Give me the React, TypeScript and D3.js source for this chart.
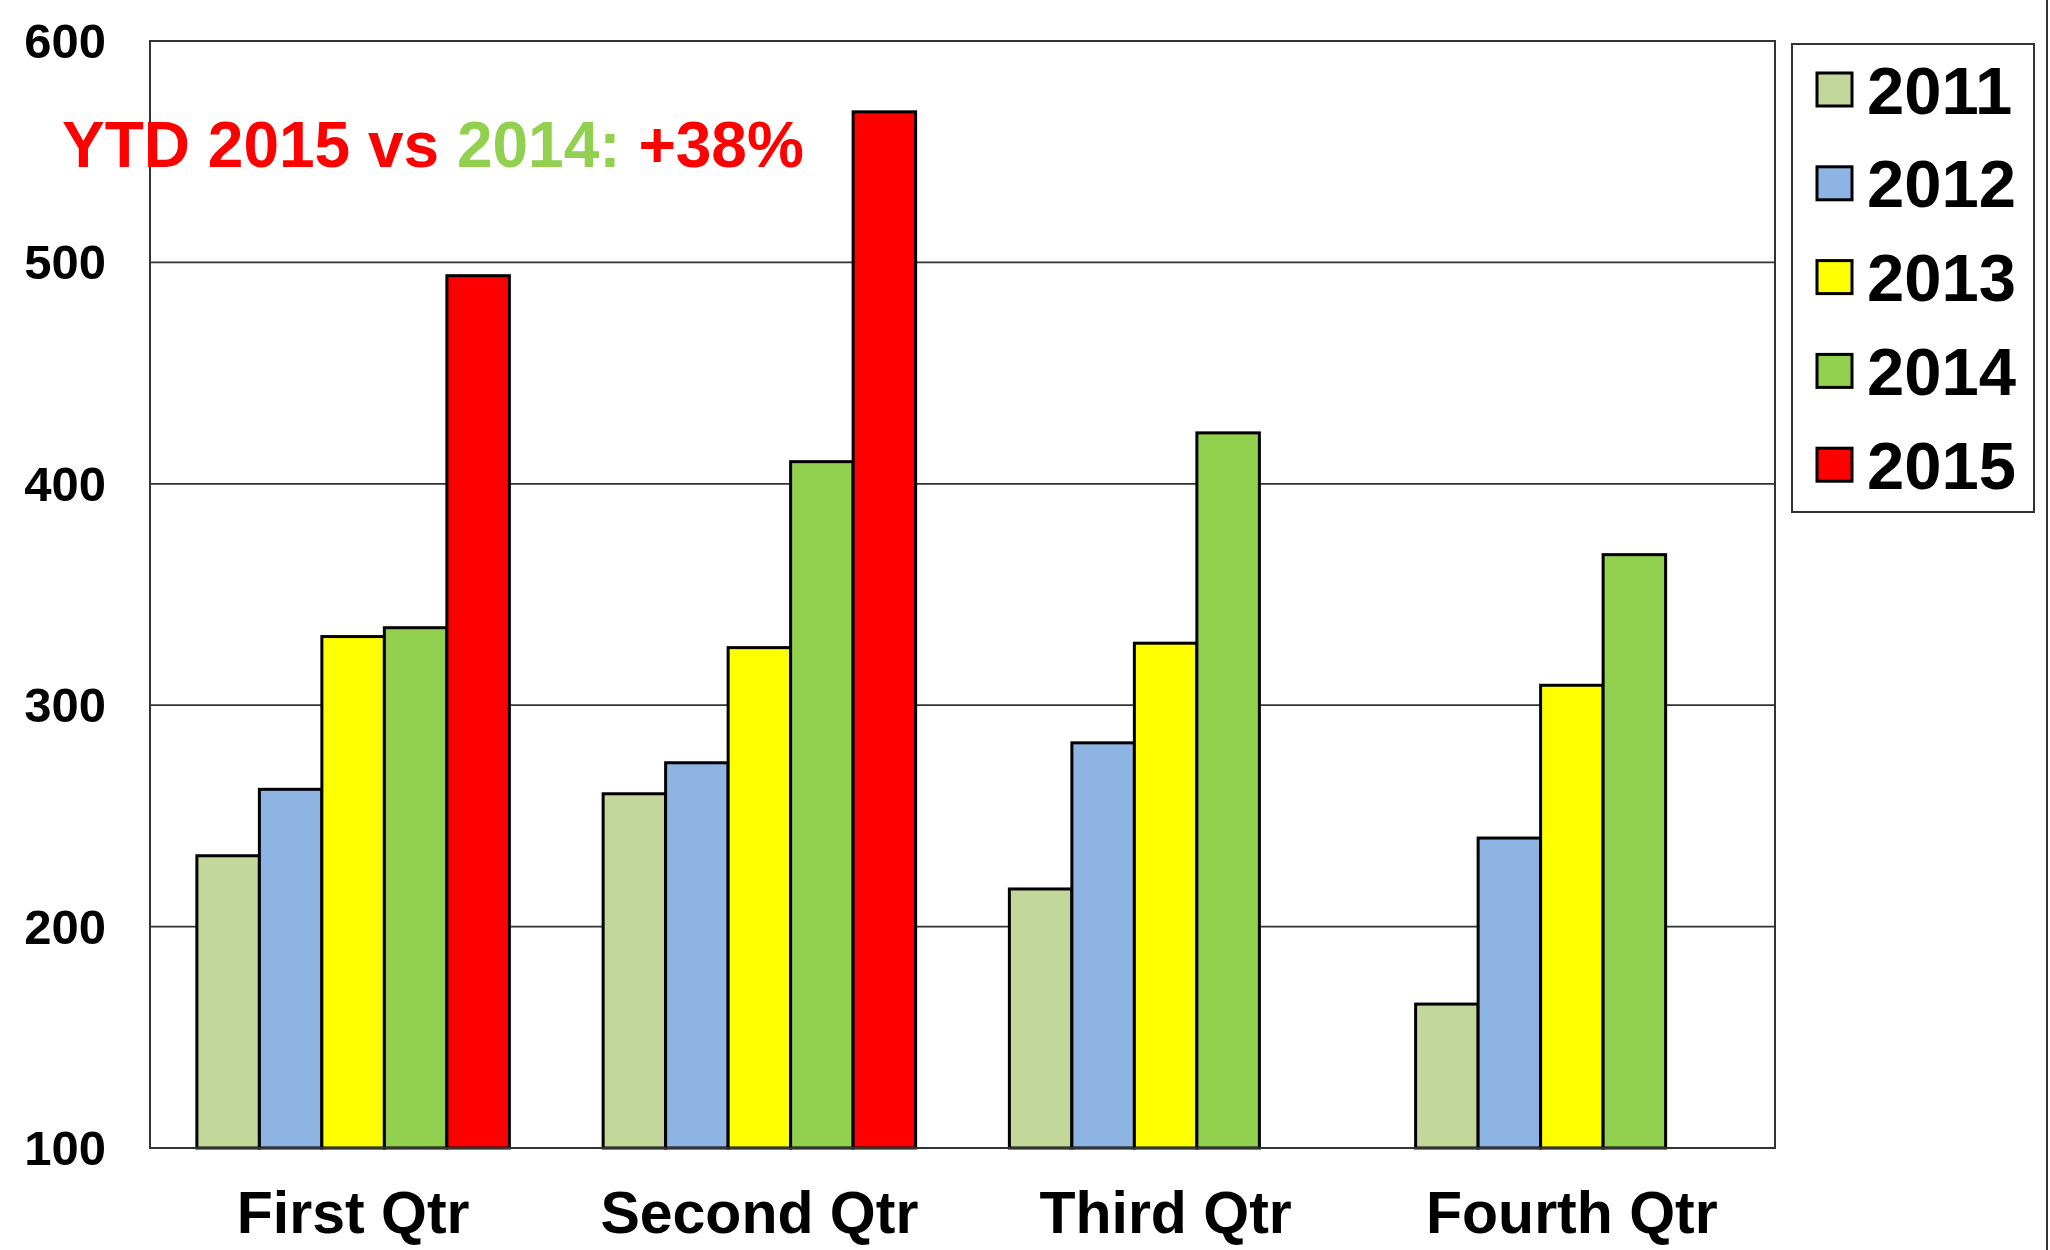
import React from "react";
import * as d3 from "d3";

const categories = ["First Qtr", "Second Qtr", "Third Qtr", "Fourth Qtr"];
const seriesNames = ["2011", "2012", "2013", "2014", "2015"];
const seriesColors = ["#C4D79B", "#8DB4E2", "#FFFF00", "#92D050", "#FF0000"];
const values2011 = [232, 260, 217, 165];
const values2012 = [262, 274, 283, 240];
const values2013 = [331, 326, 328, 309];
const values2014 = [335, 410, 423, 368];
const values2015: (number | null)[] = [494, 568, null, null];
const yTicks = [100, 200, 300, 400, 500, 600];

const allValues = [values2011, values2012, values2013, values2014, values2015];

const W = 2050;
const H = 1250;
const plot = { left: 150, right: 1775, top: 41, bottom: 1148 };
const FONT = "'Liberation Sans', Arial, sans-serif";

export default function App() {
  const x0 = d3.scaleBand<string>().domain(categories).range([plot.left, plot.right]).paddingInner(0).paddingOuter(0);
  const x1 = d3
    .scaleBand<string>()
    .domain(seriesNames)
    .range([0, x0.bandwidth()])
    .paddingInner(0)
    .paddingOuter(0.75);
  const y = d3.scaleLinear().domain([100, 600]).range([plot.bottom, plot.top]);

  return (
    <svg width={W} height={H} style={{ position: "absolute", left: 0, top: 0, background: "#fff" }}>
      <rect x={0} y={0} width={W} height={H} fill="#fff" />
      {/* gridlines */}
      {yTicks.map((t) => (
        <line key={t} x1={plot.left} x2={plot.right} y1={y(t)} y2={y(t)} stroke="#333" strokeWidth={1.8} />
      ))}
      {/* bars */}
      {categories.map((c, ci) => (
        <g key={c} transform={`translate(${x0(c)},0)`}>
          {seriesNames.map((s, si) => {
            const v = allValues[si][ci];
            if (v == null) return null;
            return (
              <rect
                key={s}
                x={x1(s)}
                y={y(v)}
                width={x1.bandwidth()}
                height={y(100) - y(v)}
                fill={seriesColors[si]}
                stroke="#000"
                strokeWidth={3}
              />
            );
          })}
        </g>
      ))}
      {/* plot border */}
      <rect
        x={plot.left}
        y={plot.top}
        width={plot.right - plot.left}
        height={plot.bottom - plot.top}
        fill="none"
        stroke="#333"
        strokeWidth={2}
      />
      {/* y tick labels */}
      {yTicks.map((t) => (
        <text
          key={t}
          x={106}
          y={y(t)}
          textAnchor="end"
          dominantBaseline="central"
          fontFamily={FONT}
          fontWeight="bold"
          fontSize={49}
          fill="#000"
        >
          {t}
        </text>
      ))}
      {/* category labels */}
      {categories.map((c) => (
        <text
          key={c}
          x={(x0(c) as number) + x0.bandwidth() / 2}
          y={1233}
          textAnchor="middle"
          fontFamily={FONT}
          fontWeight="bold"
          fontSize={59}
          fill="#000"
        >
          {c}
        </text>
      ))}
      {/* annotation */}
      <text x={62} y={167} fontFamily={FONT} fontWeight="bold" fontSize={64} fill="#FF0000">
        <tspan>YTD 2015 vs </tspan>
        <tspan fill="#92D050">2014:</tspan>
        <tspan> +38%</tspan>
      </text>
      {/* legend */}
      <rect x={1792} y={44} width={242} height={468} fill="#fff" stroke="#333" strokeWidth={2} />
      {seriesNames.map((s, i) => {
        const cy = 90 + i * 93.8;
        return (
          <g key={s}>
            <rect x={1817} y={cy - 17} width={35} height={33} fill={seriesColors[i]} stroke="#000" strokeWidth={3} />
            <text
              x={1867}
              y={cy}
              dominantBaseline="central"
              fontFamily={FONT}
              fontWeight="bold"
              fontSize={67}
              fill="#000"
            >
              {s}
            </text>
          </g>
        );
      })}
      {/* right edge line */}
      <line x1={2047} x2={2047} y1={0} y2={H} stroke="#333" strokeWidth={2} />
    </svg>
  );
}
